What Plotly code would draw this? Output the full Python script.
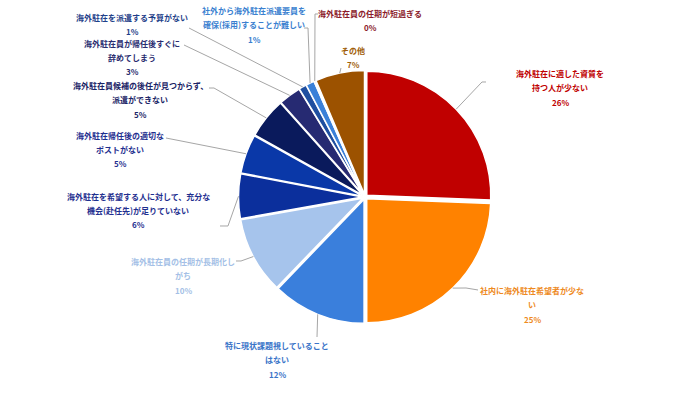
import math
import plotly.graph_objects as go

# ---- data ----
categories = [
    "海外駐在に適した資質を持つ人が少ない",
    "社内に海外駐在希望者が少ない",
    "特に現状課題視していることはない",
    "海外駐在員の任期が長期化しがち",
    "海外駐在を希望する人に対して、充分な機会(赴任先)が足りていない",
    "海外駐在帰任後の適切なポストがない",
    "海外駐在員候補の後任が見つからず、派遣ができない",
    "海外駐在員が帰任後すぐに辞めてしまう",
    "海外駐在を派遣する予算がない",
    "社外から海外駐在派遣要員を確保(採用)することが難しい",
    "海外駐在員の任期が短過ぎる",
    "その他",
]
values = [25.6, 24.4, 12.2, 10.0, 5.8, 5.1, 5.3, 2.9, 1.0, 1.1, 0.2, 6.4]
pct_labels = ["26%", "25%", "12%", "10%", "6%", "5%", "5%", "3%", "1%", "1%", "0%", "7%"]
label_lines = [
    ["海外駐在に適した資質を", "持つ人が少ない"],
    ["社内に海外駐在希望者が少な", "い"],
    ["特に現状課題視していること", "はない"],
    ["海外駐在員の任期が長期化し", "がち"],
    ["海外駐在を希望する人に対して、充分な", "機会(赴任先)が足りていない"],
    ["海外駐在帰任後の適切な", "ポストがない"],
    ["海外駐在員候補の後任が見つからず、", "派遣ができない"],
    ["海外駐在員が帰任後すぐに", "辞めてしまう"],
    ["海外駐在を派遣する予算がない"],
    ["社外から海外駐在派遣要員を", "確保(採用)することが難しい"],
    ["海外駐在員の任期が短過ぎる"],
    ["その他"],
]

# ---- styles ----
slice_colors = ["#c00000", "#ff8200", "#3a7fdc", "#a6c4ec", "#0b2f9c", "#0a38a8",
                "#0a1a5c", "#262a72", "#1f4fa0", "#3a80d8", "#8b0a1a", "#9c5200"]
text_colors = ["#c00000", "#ee8a1e", "#3a74c8", "#a4bfe6", "#1f2f8f", "#1f2f8f",
               "#1a2466", "#2a2d70", "#1f3f8a", "#3a7fd0", "#8b1a2a", "#a0600a"]

W, H = 700, 393
CX, CY = 365, 197
PULL = 0.02
HALF = 126.5
R = HALF / (1 + PULL)

# label layout (pixel): text center x, first line y, leader path points after slice edge
label_pos = [(560, 73), (532, 290), (277, 345), (183, 261), (138, 196), (120, 135),
             (140, 85), (132, 43), (132, 17), (254, 10), (370, 13), (353, 50)]
leader_pts = [
    [(482, 82), (486, 82)],
    [(466, 288), (478, 290)],
    [(317, 337)],
    [(241, 261), (236, 261)],
    [(228, 226), (220, 226)],
    [(166, 138)],
    [(214, 88), (209, 88)],
    [(184, 45)],
    [(189, 28)],
    [(308, 28), (304, 28)],
    [(315, 14), (318, 14)],
    [(341, 68)],
]
LINE_STEP = 14.5

def px(x):
    return x / W

def py(y):
    return 1 - y / H

fig = go.Figure(go.Pie(
    labels=categories,
    values=values,
    sort=False,
    direction="clockwise",
    rotation=0,
    textinfo="none",
    hoverinfo="label+percent",
    pull=[PULL] * len(values),
    marker=dict(colors=slice_colors, line=dict(color="white", width=1.5)),
    domain=dict(x=[px(CX - HALF), px(CX + HALF)], y=[py(CY + HALF), py(CY - HALF)]),
    showlegend=False,
))

total = sum(values)
cum = 0.0
shapes = []
annotations = []
for i, v in enumerate(values):
    mid = (cum + v / 2) / total * 2 * math.pi
    cum += v
    off = PULL * R
    ex = CX + (R + off) * math.sin(mid)
    ey = CY - (R + off) * math.cos(mid)
    pts = [(ex, ey)] + leader_pts[i]
    path = "M " + " L ".join(f"{px(x):.5f},{py(y):.5f}" for x, y in pts)
    shapes.append(dict(type="path", xref="paper", yref="paper", path=path,
                       line=dict(color="#a6a6a6", width=1)))
    tx, ty = label_pos[i]
    lines = label_lines[i] + [pct_labels[i]]
    for j, t in enumerate(lines):
        annotations.append(dict(
            x=px(tx), y=py(ty + j * LINE_STEP), xref="paper", yref="paper",
            text=f"<b>{t}</b>", showarrow=False, xanchor="center", yanchor="middle",
            font=dict(family="Noto Sans CJK JP", size=8, color=text_colors[i]),
        ))

fig.update_layout(
    width=W, height=H, autosize=False,
    margin=dict(l=0, r=0, t=0, b=0),
    paper_bgcolor="white", plot_bgcolor="white",
    shapes=shapes, annotations=annotations,
)

fig.write_html("out.html")
